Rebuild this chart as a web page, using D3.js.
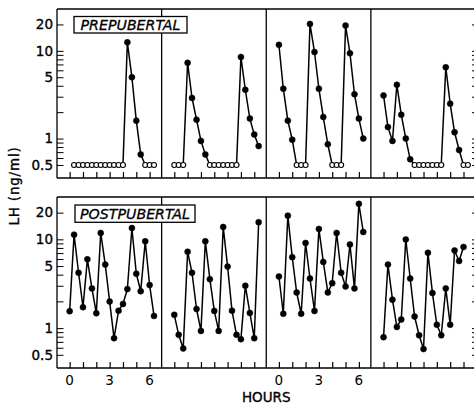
<!DOCTYPE html>
<html><head><meta charset="utf-8">
<script src="https://cdn.jsdelivr.net/npm/d3@7"></script>
<style>
body{margin:0;background:#fff}
svg{display:block}
text{font-family:"DejaVu Sans",sans-serif;fill:#000}
</style>
</head><body>
<svg id="chart" width="474" height="404"></svg>
<script>
// ---- data (LH, ng/ml; samples every 20 min) ----
const ND = "ND";               // undetectable -> open circle at detection limit
const DETECTION_LIMIT = 0.5;
const sampleHours = [0,0.33,0.67,1,1.33,1.67,2,2.33,2.67,3,3.33,3.67,4,4.33,4.67,5,5.33,5.67,6,6.33];

const pre1 = [null,ND,ND,ND,ND,ND,ND,ND,ND,ND,ND,ND,ND,12.5,5.0,1.6,0.66,ND,ND,ND];
const pre2 = [ND,ND,ND,7.3,2.9,1.64,0.94,0.66,ND,ND,ND,ND,ND,ND,ND,8.5,3.6,1.69,1.11,0.82];
const pre3 = [11.7,3.7,1.6,0.97,ND,ND,ND,20.3,9.7,3.7,1.76,0.86,ND,ND,ND,19.4,9.4,3.2,1.69,1.0];
const pre4 = [3.1,1.35,0.94,4.1,1.87,1.0,0.58,ND,ND,ND,ND,ND,ND,ND,6.5,2.5,1.18,0.74,ND,ND];

const post1 = [1.55,11.3,4.2,1.72,5.95,2.8,1.47,11.8,5.2,1.99,0.77,1.57,1.87,2.75,13.4,4.1,2.6,9.5,3.05,1.37];
const post2 = [1.41,0.84,0.59,7.25,4.2,1.64,0.93,9.5,3.56,1.56,0.93,13.8,4.93,1.57,0.84,0.75,3.0,1.48,0.77,15.6];
const post3 = [3.81,1.45,18.5,6.3,2.52,1.45,9.1,3.62,1.56,13.1,5.56,2.52,3.21,11.8,4.2,2.94,8.75,2.8,25.1,12.1];
const post4 = [0.79,5.2,2.09,1.03,1.25,9.96,3.62,1.35,0.83,0.58,7.06,2.48,1.09,0.83,2.8,1.09,7.5,5.7,8.2,null];

const groupLabels = ["PREPUBERTAL","POSTPUBERTAL"];
const yMajorTicks = [0.5,1,5,10,20];
const yMajorLabels = ["0.5","1","5","10","20"];
const yMinorTicks = [0.6,0.7,0.8,0.9,2,3,4,6,7,8,9];
const xTicks = [0,1,2,3,4,5,6];
const xLabelTicks = [0,3,6];
const xLabelPanels = [0,2];
const yTitle = "LH (ng/ml)";
const xTitle = "HOURS";

// ---- layout ----
const svg = d3.select("#chart");
const L = 57, R = 475.5;
const rows = [
  {top: 9, bottom: 178, series: [pre1, pre2, pre3, pre4], label: groupLabels[0], box: {x: 74, y: 16.5, w: 113, h: 16.5}},
  {top: 197, bottom: 368, series: [post1, post2, post3, post4], label: groupLabels[1], box: {x: 75, y: 205, w: 120, h: 17.3}}
];
const panel = d3.scaleBand().domain([0,1,2,3]).range([L, R]).paddingInner(0).paddingOuter(0);
const x = d3.scaleLinear().domain([-0.95, 6.9]).range([0, panel.bandwidth()]);

rows.forEach((row, ri) => {
  const y = d3.scaleLog().domain([0.355, 30]).range([row.bottom, row.top]);
  const g = svg.append("g");

  g.append("line").attr("x1", L).attr("x2", R).attr("y1", row.top).attr("y2", row.top)
    .attr("stroke", "#000").attr("stroke-width", 1.3);
  g.append("line").attr("x1", L).attr("x2", R).attr("y1", row.bottom).attr("y2", row.bottom)
    .attr("stroke", "#000").attr("stroke-width", 1.4);
  [0,1,2,3].forEach(i => {
    const px = panel(i);
    g.append("line").attr("x1", px).attr("x2", px).attr("y1", row.top).attr("y2", row.bottom)
      .attr("stroke", "#000").attr("stroke-width", 1.3);
  });

  const allY = yMajorTicks.concat(yMinorTicks);
  const left = g.append("g").attr("transform", `translate(${L},0)`)
    .call(d3.axisLeft(y).tickValues(allY).tickSizeInner(-6.5).tickSizeOuter(0).tickPadding(4)
      .tickFormat(d => { const k = yMajorTicks.indexOf(d); return k >= 0 ? yMajorLabels[k] : ""; }));
  left.select(".domain").remove();
  left.selectAll("line").attr("stroke", "#000").attr("stroke-width", 1);
  left.selectAll("text").attr("font-size", 13.5).attr("font-family", "DejaVu Sans")
    .attr("stroke", "#000").attr("stroke-width", 0.35);

  const right = g.append("g").attr("transform", `translate(${R},0)`)
    .call(d3.axisRight(y).tickValues(allY).tickSizeInner(-3.5).tickSizeOuter(0).tickFormat(""));
  right.select(".domain").remove();
  right.selectAll("line").attr("stroke", "#000").attr("stroke-width", 1);

  row.series.forEach((vals, pi) => {
    const pg = g.append("g").attr("transform", `translate(${panel(pi)},0)`);
    const bottomAxis = pg.append("g").attr("transform", `translate(0,${row.bottom})`)
      .call(d3.axisBottom(x).tickValues(xTicks).tickSizeInner(-6).tickSizeOuter(0).tickFormat(""));
    bottomAxis.select(".domain").remove();
    bottomAxis.selectAll("line").attr("stroke", "#000").attr("stroke-width", 1.2);

    if (ri === 1 && xLabelPanels.includes(pi)) {
      pg.selectAll("text.xl").data(xLabelTicks).join("text").attr("class", "xl")
        .attr("x", d => x(d)).attr("y", 385)
        .attr("text-anchor", "middle").attr("font-size", 13.5)
        .style("fill", "#000")
        .text(d => String(d));
    }

    const pts = vals.map((v, i) => ({t: sampleHours[i], v: v, nd: v === ND}))
      .filter(d => d.v !== null);
    const val = d => d.nd ? DETECTION_LIMIT : d.v;
    const line = d3.line().x(d => x(d.t)).y(d => y(val(d)));
    pg.append("path").datum(pts).attr("d", line)
      .attr("fill", "none").attr("stroke", "#000").attr("stroke-width", 1.5);
    pg.selectAll("circle.pt").data(pts).join("circle").attr("class", "pt")
      .attr("cx", d => x(d.t)).attr("cy", d => y(val(d)))
      .attr("r", d => d.nd ? 2.5 : 3.0)
      .attr("fill", d => d.nd ? "#fff" : "#000")
      .attr("stroke", "#000").attr("stroke-width", d => d.nd ? 1.1 : 0.5);
  });

  g.append("rect").attr("x", row.box.x).attr("y", row.box.y).attr("width", row.box.w).attr("height", row.box.h)
    .attr("fill", "#fff").attr("stroke", "#000").attr("stroke-width", 1.3);
  g.append("text").attr("x", row.box.x + row.box.w / 2).attr("y", row.box.y + row.box.h - 3.3)
    .attr("text-anchor", "middle").attr("font-size", 14.2).attr("font-style", "italic")
    .attr("stroke", "#000").attr("stroke-width", 0.3)
    .text(row.label);
});

svg.append("text").attr("transform", "translate(19,186) rotate(-90)")
  .attr("text-anchor", "middle").attr("font-size", 13.5).attr("letter-spacing", 0.8)
  .attr("stroke", "#000").attr("stroke-width", 0.35)
  .text(yTitle);
svg.append("text").attr("x", (L + R) / 2).attr("y", 402)
  .attr("text-anchor", "middle").attr("font-size", 13.5)
  .attr("stroke", "#000").attr("stroke-width", 0.35)
  .text(xTitle);
</script>
</body></html>
